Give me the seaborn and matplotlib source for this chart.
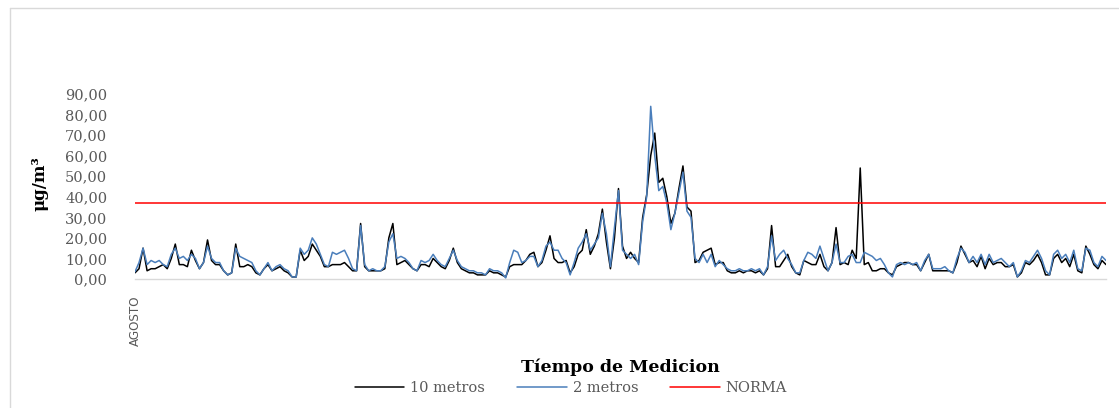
import numpy as np
import pandas as pd
import matplotlib
matplotlib.use("Agg")
import matplotlib.pyplot as plt
import seaborn as sns
from matplotlib.lines import Line2D

diez_metros = [
    # tramo 1
    3, 5, 15, 4, 5, 5, 6, 7, 5, 10, 17, 7, 7, 6, 14, 9, 5, 8, 19, 9,
    7, 7, 4, 2, 3, 17, 6, 6, 7, 6, 3, 2, 5, 7, 4, 5, 6, 4, 3, 1,
    1, 14, 9, 11, 17, 14, 11, 6, 6, 7, 7, 7, 8, 6, 4, 4, 27, 6, 4, 4,
    # tramo 2
    4, 4, 5, 20, 27, 7, 8, 9, 7, 5, 4, 7, 7, 6, 10, 8, 6, 5, 9, 15,
    8, 5, 4, 3, 3, 2, 2, 2, 4, 3, 3, 2, 1, 6, 7, 7, 7, 9, 12, 13,
    6, 8, 14, 21, 10, 8, 8, 9, 3, 6, 12, 14, 24, 12, 16, 22, 34, 18, 5, 20,
    # tramo 3
    44, 16, 10, 13, 10, 8, 30, 41, 60, 71, 47, 49, 40, 27, 32, 44, 55, 35, 33, 8,
    9, 13, 14, 15, 7, 8, 8, 4, 3, 3, 4, 3, 4, 4, 3, 4, 2, 5, 26, 6,
    6, 9, 12, 6, 3, 2, 9, 8, 7, 7, 12, 6, 4, 8, 25, 7, 8, 7, 14, 10,
    54, 7,
    # tramo 4
    8, 4, 4, 5, 5, 3, 2, 6, 7, 8, 8, 7, 7, 4, 8, 12, 4, 4, 4, 4,
    4, 3, 8, 16, 12, 8, 9, 6, 11, 5, 10, 7, 8, 8, 6, 6, 7, 1, 3, 8,
    7, 9, 12, 8, 2, 2, 10, 12, 8, 10, 6, 12, 4, 3, 16, 12, 7, 5, 9, 7,
]

dos_metros = [
    # tramo 1
    3.5, 8, 15, 7, 9, 8, 9, 7, 6, 12, 15, 10, 11, 9, 12, 10, 5, 8, 16, 10,
    8, 8, 4, 2, 3, 15, 11, 10, 9, 8, 4, 2, 5, 8, 4, 6, 7, 5, 4, 1,
    1, 15, 12, 14, 20, 17, 12, 7, 6, 13, 12, 13, 14, 10, 5, 4, 26, 7, 4, 5,
    # tramo 2
    4, 4, 6, 18, 22, 10, 11, 10, 8, 5, 4, 9, 8, 9, 12, 9, 7, 6, 10, 14,
    9, 6, 5, 4, 4, 3, 3, 2, 5, 4, 4, 3, 0.5, 8, 14, 13, 8, 9, 11, 11,
    6, 9, 16, 18, 14, 14, 10, 8, 2, 8, 15, 18, 22, 14, 17, 20, 32, 22, 6, 25,
    # tramo 3
    43, 14, 12, 10, 12, 7, 28, 40, 84, 60, 43, 45, 37, 24, 32, 42, 52, 33, 30, 10,
    8, 12, 8, 12, 6, 9, 7, 5, 4, 4, 5, 4, 4, 5, 4, 5, 2, 6, 21, 9,
    12, 14, 10, 7, 3, 3, 9, 13, 12, 10, 16, 10, 4, 8, 17, 8, 8, 11, 12, 8,
    8, 13,
    # tramo 4
    12, 11, 9, 10, 7, 3, 1, 7, 8, 7, 8, 7, 8, 4, 9, 12, 5, 5, 5, 6,
    4, 3, 10, 15, 13, 8, 11, 8, 12, 7, 12, 8, 9, 10, 8, 6, 8, 1, 4, 9,
    8, 11, 14, 10, 4, 2, 12, 14, 10, 12, 8, 14, 5, 4, 15, 14, 8, 6, 11, 9,
]

norma = 37
mes = "AGOSTO"

n = len(diez_metros)
df = pd.DataFrame({
    "t": np.arange(n),
    "10 metros": diez_metros,
    "2 metros": dos_metros,
    "NORMA": [norma] * n,
})

sns.set_style("white")
plt.rcParams["font.family"] = ["DejaVu Serif", "DejaVu Sans"]

fig = plt.figure(figsize=(11.19, 4.08), dpi=100)
ax = fig.add_axes([135 / 1119, 1 - 279 / 408, (1106 - 135) / 1119, (279 - 94) / 408])

sns.lineplot(data=df, x="t", y="10 metros", color="#000000", linewidth=1.1, label="10 metros", ax=ax)
sns.lineplot(data=df, x="t", y="2 metros", color="#4a7ebb", linewidth=1.1, label="2 metros", ax=ax)
sns.lineplot(data=df, x="t", y="NORMA", color="#ff0000", linewidth=1.1, label="NORMA", ax=ax)

ax.set_xlim(0, n - 1)
ax.set_ylim(0, 90)
ax.set_yticks(np.arange(0, 91, 10))
ax.set_yticklabels([f"{v:.2f}".replace(".", ",") for v in np.arange(0, 91, 10)],
                   color="#595959", fontsize=10.5)
ax.set_xticks([0])
ax.set_xticklabels([mes], rotation=90, color="#595959", fontsize=9.5,
                   family="DejaVu Sans", fontstretch="condensed")
ax.tick_params(axis="y", length=0, pad=20)
ax.tick_params(axis="x", length=0, pad=12)

for s in ["top", "right", "left"]:
    ax.spines[s].set_visible(False)
ax.spines["bottom"].set_color("#d9d9d9")
ax.spines["bottom"].set_linewidth(1.0)

ax.set_xlabel("")
ax.set_ylabel("")
ax.get_legend().remove()

fig.text(620 / 1119, 1 - 367 / 408, "Tíempo de Medicion", ha="center", va="center",
         fontsize=12.5, fontweight="bold", color="#000000")
fig.text(40 / 1119, 1 - 184 / 408, "μg/m³", ha="center", va="center", rotation=90,
         fontsize=12, fontweight="bold", color="#000000")

handles, labels = ax.get_legend_handles_labels()
leg = fig.legend(handles, labels, loc="center", bbox_to_anchor=(571 / 1119, 1 - 388 / 408),
                 ncol=3, frameon=False, fontsize=10.5, handlelength=3.4,
                 columnspacing=2.2, handletextpad=0.4)
for t in leg.get_texts():
    t.set_color("#595959")

# marco del grafico
fig.add_artist(Line2D([10 / 1119, 10 / 1119], [0, 1 - 8 / 408], transform=fig.transFigure,
                      color="#d9d9d9", linewidth=1))
fig.add_artist(Line2D([10 / 1119, 1], [1 - 8 / 408, 1 - 8 / 408], transform=fig.transFigure,
                      color="#d9d9d9", linewidth=1))

fig.savefig("out.png", dpi=100)
